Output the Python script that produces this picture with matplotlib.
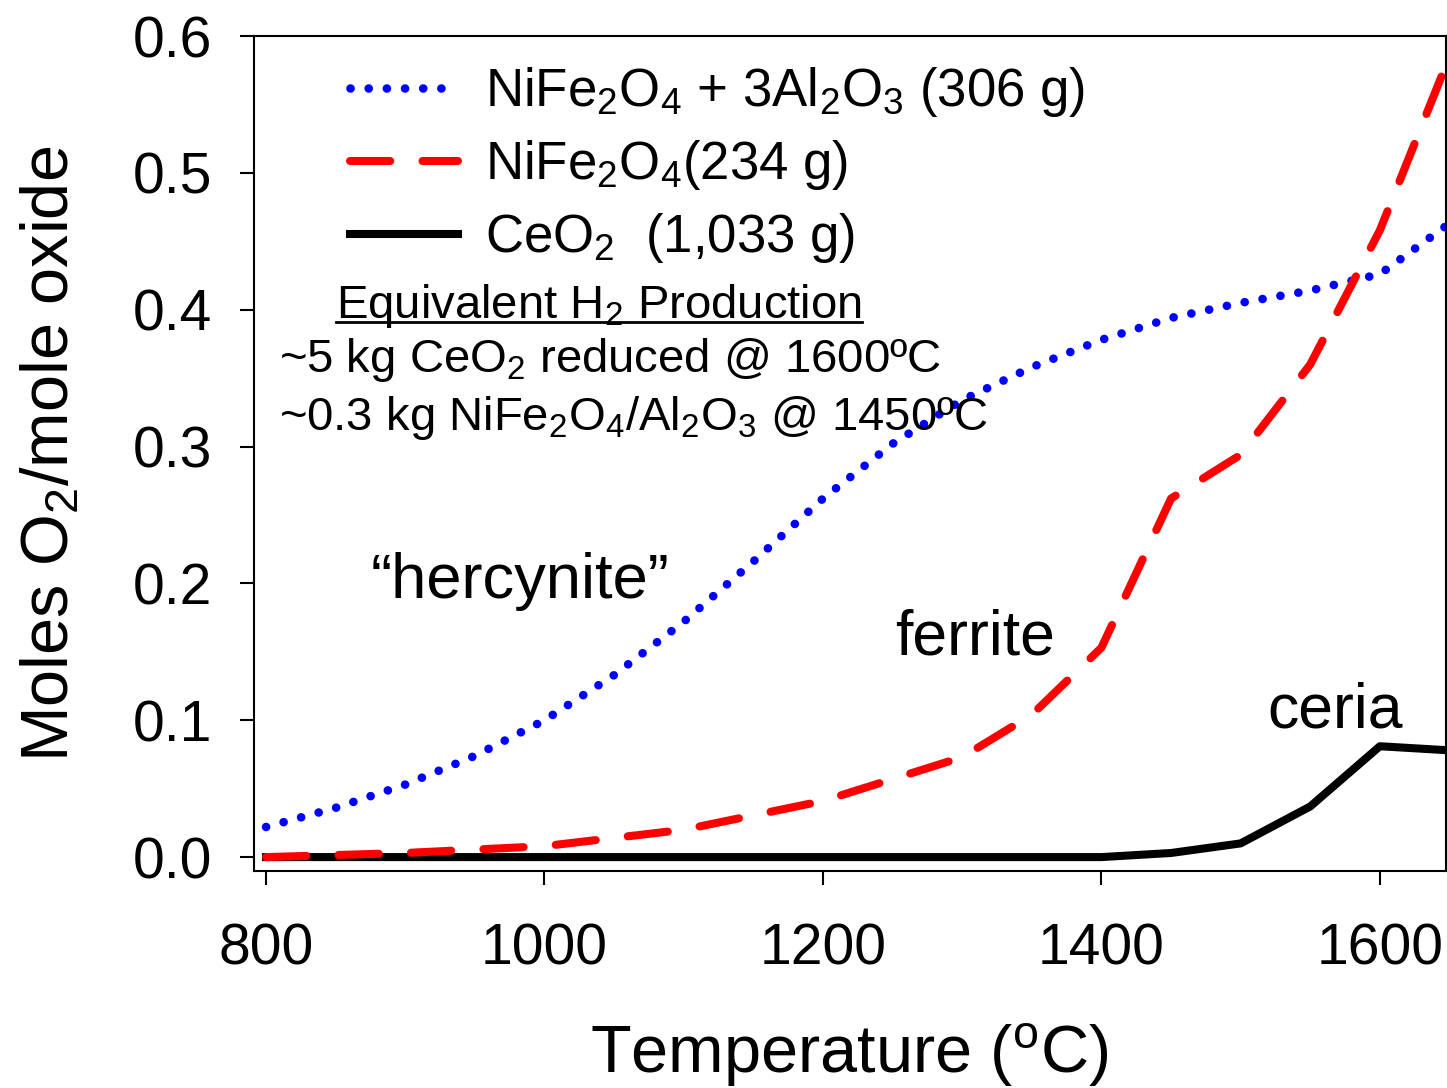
import matplotlib
matplotlib.use("Agg")
import matplotlib.pyplot as plt
from matplotlib.lines import Line2D

plt.rcParams['font.family'] = ['Liberation Sans', 'DejaVu Sans']
plt.rcParams['mathtext.fontset'] = 'custom'
plt.rcParams['mathtext.rm'] = 'Liberation Sans'
plt.rcParams['mathtext.it'] = 'Liberation Sans:italic'
plt.rcParams['mathtext.bf'] = 'Liberation Sans:bold'

# data
temp_herc = [800, 850, 900, 950, 1000, 1050, 1100, 1150, 1200, 1250, 1300, 1350,
             1400, 1450, 1500, 1550, 1600, 1650]
herc = [0.022, 0.036, 0.053, 0.074, 0.100, 0.133, 0.172, 0.216, 0.262, 0.302, 0.334,
        0.358, 0.378, 0.394, 0.405, 0.414, 0.426, 0.463]

temp_ferr = [800, 900, 1000, 1100, 1200, 1300, 1350, 1400, 1450, 1500, 1550, 1600, 1650]
ferr = [0.0, 0.003, 0.008, 0.020, 0.041, 0.073, 0.104, 0.153, 0.262, 0.294, 0.360, 0.458, 0.585]

temp_ceria = [800, 1400, 1450, 1500, 1550, 1600, 1650]
ceria = [0.0, 0.0, 0.003, 0.010, 0.037, 0.081, 0.078]

labels = ['NiFe$_2$O$_4$ + 3Al$_2$O$_3$ (306 g)',
          'NiFe$_2$O$_4$(234 g)',
          'CeO$_2$  (1,033 g)']

x_ticks = [800, 1000, 1200, 1400, 1600]
y_ticks = [0.0, 0.1, 0.2, 0.3, 0.4, 0.5, 0.6]

fig = plt.figure(figsize=(14.47, 10.88), dpi=100)
ax = fig.add_axes([0.1752, 0.1994, 0.8241, 0.7675])

ax.plot(temp_herc, herc, color='#0000ff', lw=6.2, linestyle=(0, (0.01, 2.1)),
        dash_capstyle='round', label=labels[0])
ax.plot(temp_ferr, ferr, color='#ff0000', lw=5.8, linestyle=(0, (5.0, 4.0)),
        dash_capstyle='round', label=labels[1])
ax.plot(temp_ceria, ceria, color='black', lw=5.8, solid_joinstyle='round',
        label=labels[2], zorder=1)

ax.set_xlim(791, 1647.5)
ax.set_ylim(-0.0102, 0.6)
ax.set_xticks(x_ticks)
ax.set_xticklabels([str(t) for t in x_ticks])
ax.set_yticks(y_ticks)
ax.set_yticklabels([f'{t:.1f}' for t in y_ticks])
ax.tick_params(axis='both', direction='out', length=10, width=1.5, labelsize=41)
ax.tick_params(axis='x', pad=27)
ax.tick_params(axis='y', pad=20)
for sp in ax.spines.values():
    sp.set_linewidth(1.5)

ax.set_xlabel('Temperature ($^\\mathrm{o}$C)', fontsize=48, labelpad=32)
ax.set_ylabel('Moles O$_2$/mole oxide', fontsize=48, labelpad=36)

leg = ax.legend(loc='upper left', bbox_to_anchor=(0.081, 0.965), frameon=False,
                fontsize=38, handlelength=2.05, handletextpad=0.5,
                borderpad=0, borderaxespad=0, labelspacing=0.36)

# annotation block
eq = ax.text(850, 0.394, 'Equivalent H$_2$ Production', fontsize=34, va='baseline')
ax.text(809, 0.3545, '~5 kg CeO$_2$ reduced @ 1600ºC', fontsize=34, va='baseline')
ax.text(809, 0.312, '~0.3 kg NiFe$_2$O$_4$/Al$_2$O$_3$ @ 1450ºC', fontsize=34, va='baseline')

ax.text(875, 0.189, '\u201chercynite\u201d', fontsize=45.5, va='baseline')
ax.text(1252, 0.148, 'ferrite', fontsize=45, va='baseline')
ax.text(1519, 0.095, 'ceria', fontsize=45, va='baseline')

# underline the heading
fig.canvas.draw()
bb = eq.get_window_extent().transformed(fig.transFigure.inverted())
y_line = ax.transData.transform((0, 0.394))
y_line = fig.transFigure.inverted().transform(y_line)[1] - 0.004
fig.add_artist(Line2D([bb.x0, bb.x1], [y_line, y_line], color='black', lw=2))

fig.savefig('out.png', dpi=100)
